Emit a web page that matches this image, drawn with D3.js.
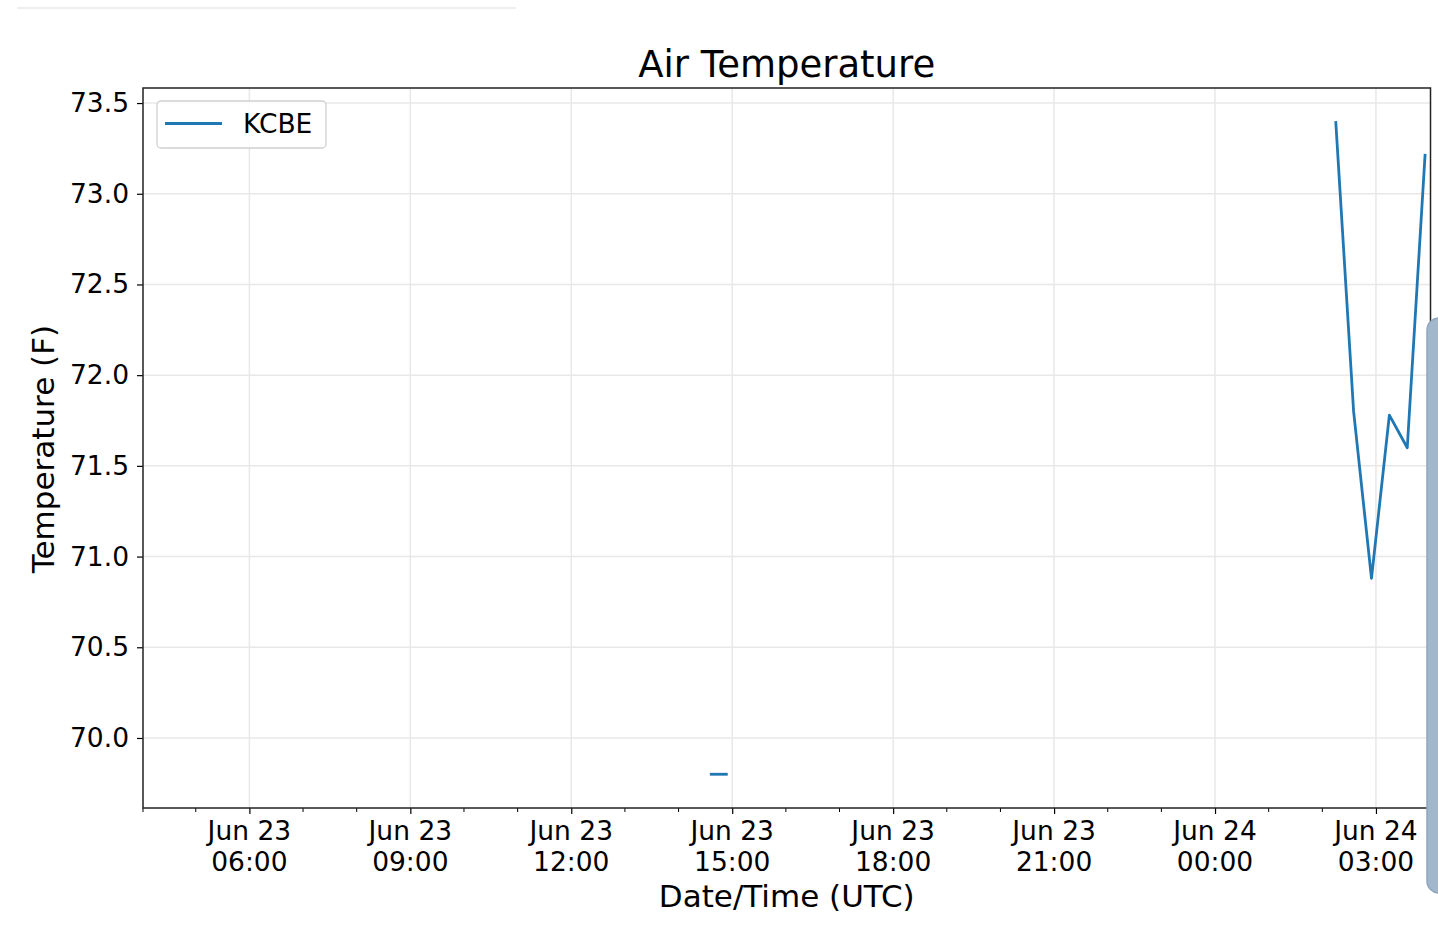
<!DOCTYPE html>
<html><head><meta charset="utf-8">
<script src="https://cdn.jsdelivr.net/npm/d3@7"></script>
<style>html,body{margin:0;padding:0;background:#fff;overflow:hidden}</style>
</head><body>
<script>
// ---- data ----
const seriesName = "KCBE";
const segment1Times = ["2018-06-23T14:35", "2018-06-23T14:55"];
const segment1Temps = [69.8, 69.8];
const segment2Times = ["2018-06-24T02:15", "2018-06-24T02:35", "2018-06-24T02:55", "2018-06-24T03:15", "2018-06-24T03:35", "2018-06-24T03:55"];
const segment2Temps = [73.4, 71.8, 70.88, 71.78, 71.6, 73.22];
const yTicks = [70.0, 70.5, 71.0, 71.5, 72.0, 72.5, 73.0, 73.5];
const xMajorTicks = ["2018-06-23T06:00","2018-06-23T09:00","2018-06-23T12:00","2018-06-23T15:00","2018-06-23T18:00","2018-06-23T21:00","2018-06-24T00:00","2018-06-24T03:00"];
const xDomain = ["2018-06-23T04:01", "2018-06-24T04:01"];
const yDomain = [69.614, 73.583];

const parse = d3.timeParse("%Y-%m-%dT%H:%M");
const W = 1438, H = 942;
const L = 143, R = 1430.5, T = 88, B = 808;

const svg = d3.select("body").append("svg").attr("width", W).attr("height", H)
  .style("font-family", "'DejaVu Sans', sans-serif");

// top decorative line
svg.append("line").attr("x1",17).attr("x2",516).attr("y1",8).attr("y2",8)
  .attr("stroke","#eeeeee").attr("stroke-width",2);

const x = d3.scaleTime().domain(xDomain.map(parse)).range([L, R]);
const y = d3.scaleLinear().domain(yDomain).range([B, T]);

// grid
const g = svg.append("g");
g.selectAll(".gx").data(xMajorTicks.map(parse)).enter().append("line")
  .attr("x1", d=>x(d)).attr("x2", d=>x(d)).attr("y1", T).attr("y2", B)
  .attr("stroke","#e8e8e8").attr("stroke-width",1.5);
g.selectAll(".gy").data(yTicks).enter().append("line")
  .attr("x1", L).attr("x2", R).attr("y1", d=>y(d)).attr("y2", d=>y(d))
  .attr("stroke","#e8e8e8").attr("stroke-width",1.5);

// lines
const line = d3.line().x(d=>x(d[0])).y(d=>y(d[1]));
const segs = [
  segment1Times.map((t,i)=>[parse(t), segment1Temps[i]]),
  segment2Times.map((t,i)=>[parse(t), segment2Temps[i]])
];
svg.append("defs").append("clipPath").attr("id","clip").append("rect")
  .attr("x",L).attr("y",T).attr("width",R-L).attr("height",B-T);
segs.forEach(s => svg.append("path").datum(s).attr("d", line)
  .attr("fill","none").attr("stroke","#1f77b4").attr("stroke-width",2.8)
  .attr("stroke-linejoin","round").attr("clip-path","url(#clip)"));

// axes
const fmtTop = d3.timeFormat("%b %d"), fmtBot = d3.timeFormat("%H:%M");
const xAxis = d3.axisBottom(x).tickValues(xMajorTicks.map(parse)).tickSize(6).tickFormat("");
const xg = svg.append("g").attr("transform",`translate(0,${B})`).call(xAxis);
xg.select(".domain").remove();
xg.selectAll(".tick line").attr("stroke","#000").attr("stroke-width",1.2);
// minor ticks (hourly)
const minor = d3.timeHour.every(1).range(x.domain()[0], d3.timeMinute.offset(x.domain()[1],1))
  .filter(d => d.getHours() % 3 !== 0);
const minorAll = [parse("2018-06-23T04:00")].concat(minor.filter(d=>+d!==+parse("2018-06-23T04:00")));
svg.append("g").selectAll("line").data(minorAll).enter().append("line")
  .attr("x1", d=>Math.max(L, x(d))).attr("x2", d=>Math.max(L, x(d))).attr("y1",B).attr("y2",B+4)
  .attr("stroke","#000").attr("stroke-width",1);
const xl = svg.append("g").selectAll("text").data(xMajorTicks.map(parse)).enter().append("text")
  .attr("x", d=>x(d)).attr("text-anchor","middle").attr("font-size",26.5).attr("fill","#000");
xl.append("tspan").attr("x", d=>x(d)).attr("y", 840).text(d=>fmtTop(d));
xl.append("tspan").attr("x", d=>x(d)).attr("y", 871).text(d=>fmtBot(d));

const yAxis = d3.axisLeft(y).tickValues(yTicks).tickSize(6).tickPadding(8).tickFormat(d3.format(".1f"));
const yg = svg.append("g").attr("transform",`translate(${L},0)`).call(yAxis);
yg.select(".domain").remove();
yg.selectAll(".tick line").attr("stroke","#000").attr("stroke-width",1.2);
yg.selectAll(".tick text").attr("font-size",26.5).attr("fill","#000")
  .attr("font-family","'DejaVu Sans', sans-serif");

// frame
svg.append("rect").attr("x",L).attr("y",T).attr("width",R-L).attr("height",B-T)
  .attr("fill","none").attr("stroke","#222").attr("stroke-width",1.5);

// legend
const lg = svg.append("g");
lg.append("rect").attr("x",157).attr("y",101).attr("width",169).attr("height",47).attr("rx",4)
  .attr("fill","#fff").attr("fill-opacity",0.85).attr("stroke","#d0d0d0").attr("stroke-width",1.3);
lg.append("line").attr("x1",165).attr("x2",222).attr("y1",123.5).attr("y2",123.5)
  .attr("stroke","#1f77b4").attr("stroke-width",2.8);
lg.append("text").attr("x",243).attr("y",133).attr("font-size",26.5).attr("fill","#000").text(seriesName);

// titles
svg.append("text").attr("x",(L+R)/2).attr("y",77).attr("text-anchor","middle")
  .attr("font-size",37).attr("fill","#000").text("Air Temperature");
svg.append("text").attr("x",(L+R)/2).attr("y",907).attr("text-anchor","middle")
  .attr("font-size",31).attr("fill","#000").text("Date/Time (UTC)");
svg.append("text").attr("transform",`translate(54,${(T+B)/2+1}) rotate(-90)`).attr("text-anchor","middle")
  .attr("font-size",31).attr("fill","#000").text("Temperature (F)");

// right overlay (scrollbar-like)
svg.append("rect").attr("x",1427).attr("y",318).attr("width",30).attr("height",575).attr("rx",12)
  .attr("fill","#a2b7cc").attr("stroke","#8ea6bf").attr("stroke-width",1.5);
</script>
</body></html>
